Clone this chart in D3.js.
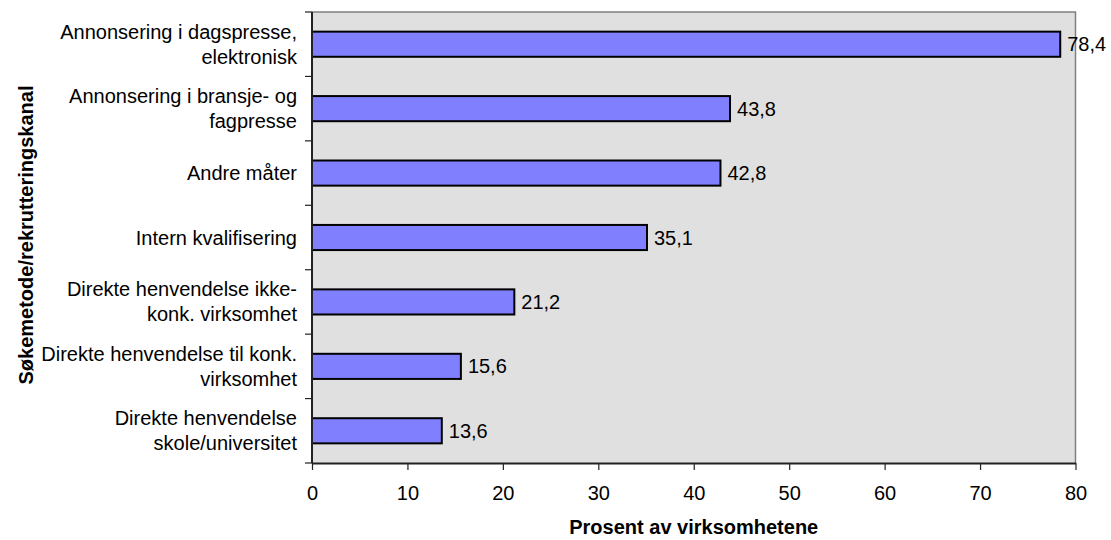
<!DOCTYPE html>
<html>
<head>
<meta charset="utf-8">
<script src="https://cdn.jsdelivr.net/npm/d3@7/dist/d3.min.js"></script>
<style>
  html, body { margin: 0; padding: 0; background: #fff; }
  svg { display: block; font-family: "Liberation Sans", Arial, sans-serif; }
</style>
</head>
<body>
<svg id="chart" width="1111" height="540"></svg>
<script>
// Recruitment channels (top to bottom), each split into display lines
const categories = [
  ["Annonsering i dagspresse,", "elektronisk"],
  ["Annonsering i bransje- og", "fagpresse"],
  ["Andre måter"],
  ["Intern kvalifisering"],
  ["Direkte henvendelse ikke-", "konk. virksomhet"],
  ["Direkte henvendelse til konk.", "virksomhet"],
  ["Direkte henvendelse", "skole/universitet"]
];
const values = [78.4, 43.8, 42.8, 35.1, 21.2, 15.6, 13.6];
const xTicks = [0, 10, 20, 30, 40, 50, 60, 70, 80];
const xTitle = "Prosent av virksomhetene";
const yTitle = "Søkemetode/rekrutteringskanal";

const svg = d3.select("#chart");
const plot = { left: 312, right: 1075.5, top: 12, bottom: 463 };
const fontSize = 20;

const x = d3.scaleLinear().domain([0, 80]).range([plot.left, plot.right]);
const y = d3.scaleBand()
  .domain(d3.range(categories.length))
  .range([plot.top, plot.bottom])
  .paddingInner(0.61)
  .paddingOuter(0.305);

// Plot background with gray frame on top/right
svg.append("rect")
  .attr("x", plot.left).attr("y", plot.top)
  .attr("width", plot.right - plot.left).attr("height", plot.bottom - plot.top)
  .attr("fill", "#e0e0e0");
svg.append("path")
  .attr("d", `M${plot.left},${plot.top}H${plot.right}V${plot.bottom}`)
  .attr("fill", "none").attr("stroke", "#808080").attr("stroke-width", 1.5);

// Bars
svg.append("g").selectAll("rect")
  .data(values)
  .join("rect")
  .attr("x", x(0))
  .attr("y", (d, i) => y(i))
  .attr("width", d => x(d) - x(0))
  .attr("height", y.bandwidth())
  .attr("fill", "#8080ff")
  .attr("stroke", "#000")
  .attr("stroke-width", 2);

// Value labels
svg.append("g").selectAll("text")
  .data(values)
  .join("text")
  .attr("x", d => x(d) + 7)
  .attr("y", (d, i) => y(i) + y.bandwidth() / 2)
  .attr("dy", "0.35em")
  .attr("font-size", fontSize)
  .attr("fill", "#000")
  .text(d => d3.format(".1f")(d).replace(".", ","));

// X axis
const xAxis = svg.append("g")
  .attr("transform", `translate(0,${plot.bottom})`)
  .call(d3.axisBottom(x).tickValues(xTicks).tickSize(7).tickSizeOuter(0).tickPadding(16).tickFormat(d3.format("d")));
xAxis.select(".domain").attr("stroke", "#222").attr("stroke-width", 2);
xAxis.selectAll(".tick line").attr("stroke", "#222").attr("stroke-width", 1.2);
xAxis.selectAll(".tick text").attr("font-size", fontSize).attr("fill", "#000")
  .attr("font-family", "Liberation Sans, Arial, sans-serif");

// Y axis line and boundary ticks between categories
const bounds = d3.range(categories.length + 1).map(i => plot.top + i * (plot.bottom - plot.top) / categories.length);
const yAxis = svg.append("g");
yAxis.append("line")
  .attr("x1", plot.left).attr("x2", plot.left)
  .attr("y1", plot.top).attr("y2", plot.bottom)
  .attr("stroke", "#222").attr("stroke-width", 2);
yAxis.selectAll("line.tk")
  .data(bounds)
  .join("line")
  .attr("class", "tk")
  .attr("x1", plot.left - 7).attr("x2", plot.left)
  .attr("y1", d => d).attr("y2", d => d)
  .attr("stroke", "#222").attr("stroke-width", 1.2);

// Category labels, right-aligned beside the axis
const lineH = 25;
svg.append("g").selectAll("text")
  .data(categories)
  .join("text")
  .attr("text-anchor", "end")
  .attr("font-size", fontSize)
  .attr("fill", "#000")
  .each(function (lines, i) {
    const cy = y(i) + y.bandwidth() / 2;
    const t = d3.select(this);
    lines.forEach((ln, k) => {
      t.append("tspan")
        .attr("x", 297)
        .attr("y", cy + (k - (lines.length - 1) / 2) * lineH)
        .attr("dy", "0.35em")
        .text(ln);
    });
  });

// Axis titles
svg.append("text")
  .attr("x", (plot.left + plot.right) / 2)
  .attr("y", 534)
  .attr("text-anchor", "middle")
  .attr("font-size", fontSize)
  .attr("font-weight", "bold")
  .text(xTitle);

svg.append("text")
  .attr("transform", `translate(26,${(85 + 385) / 2}) rotate(-90)`)
  .attr("text-anchor", "middle")
  .attr("dy", "0.35em")
  .attr("font-size", fontSize)
  .attr("font-weight", "bold")
  .text(yTitle);
</script>
</body>
</html>
